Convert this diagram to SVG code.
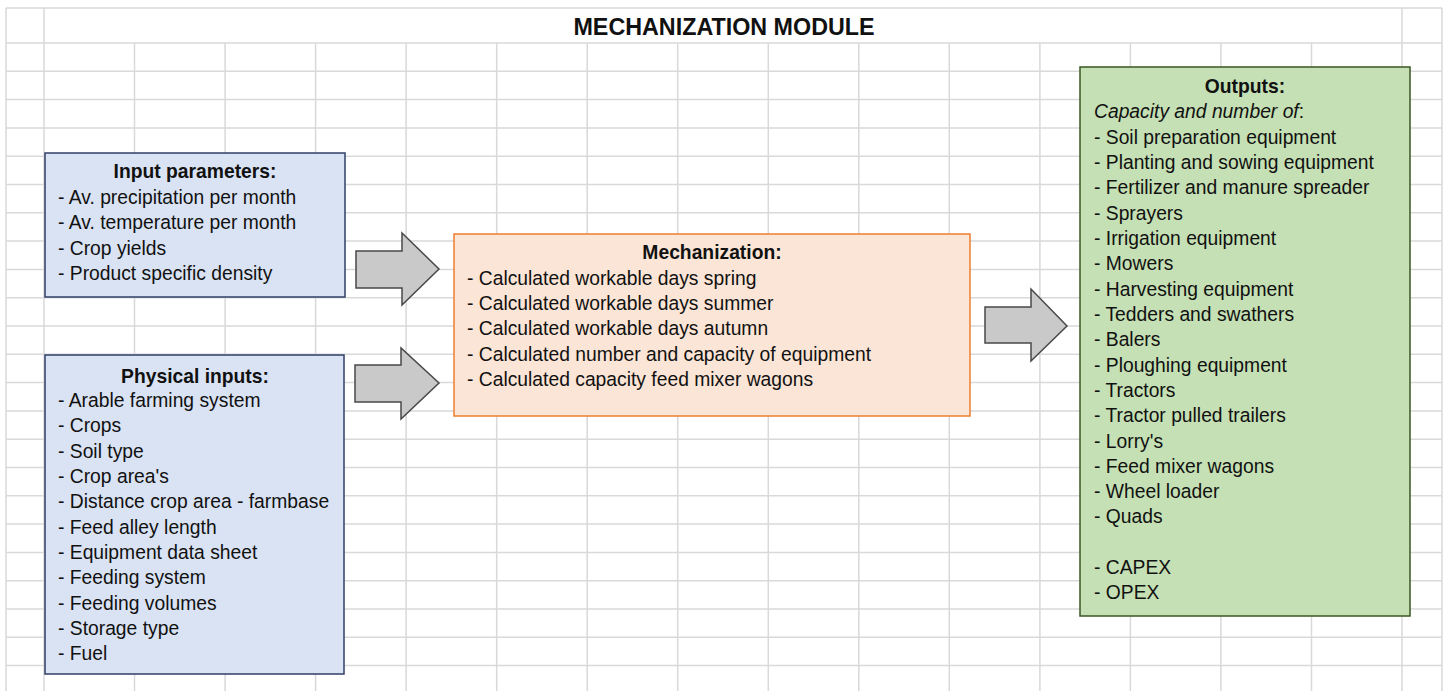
<svg xmlns="http://www.w3.org/2000/svg" width="1450" height="691" viewBox="0 0 1450 691">
<style>
.grid{stroke:#d9d9d9;stroke-width:1.5;fill:none}
.t{font-family:"Liberation Sans",Arial,sans-serif;font-size:19.3px;fill:#111}
.b{font-weight:bold}
.c{text-anchor:middle}
.arrow{fill:#c9c9c9;stroke:#484848;stroke-width:1.5;stroke-linejoin:miter}
</style>
<rect width="1450" height="691" fill="#ffffff"/>
<g id="grid">
<path class="grid" d="M6,8H1442 M6,43H1442 M6,71.3H1442 M6,99.6H1442 M6,127.9H1442 M6,156.2H1442 M6,184.5H1442 M6,212.8H1442 M6,241.1H1442 M6,269.4H1442 M6,297.7H1442 M6,326H1442 M6,354.3H1442 M6,382.6H1442 M6,410.9H1442 M6,439.2H1442 M6,467.5H1442 M6,495.8H1442 M6,524.1H1442 M6,552.4H1442 M6,580.7H1442 M6,609H1442 M6,637.3H1442 M6,665.6H1442"/>
<path class="grid" d="M6,8V691 M44,8V691 M1402,8V691 M1442,8V691 M134.5,43V691 M225.1,43V691 M315.6,43V691 M406.1,43V691 M496.7,43V691 M587.2,43V691 M677.7,43V691 M768.3,43V691 M858.8,43V691 M949.3,43V691 M1039.9,43V691 M1130.4,43V691 M1220.9,43V691 M1311.5,43V691"/>
</g>
<g id="title">
<text class="t b c" x="724" y="35" style="font-size:23.3px">MECHANIZATION MODULE</text>
</g>
<g id="connectors">
<path class="arrow" d="M356,251H402V233L439,269L402,305V288H356Z"/>
<path class="arrow" d="M355,365H401V348L439,383L401,419V402H355Z"/>
<path class="arrow" d="M985,307H1031V289L1067,326L1031,361V343H985Z"/>
</g>
<g id="input-parameters">
<rect x="45" y="153" width="300" height="144" fill="#dae3f3" stroke="#2f3f66" stroke-width="1.5"/>
<text class="t b c" x="195" y="178">Input parameters:</text>
<text class="t" x="58" y="204">- Av. precipitation per month</text>
<text class="t" x="58" y="229">- Av. temperature per month</text>
<text class="t" x="58" y="255">- Crop yields</text>
<text class="t" x="58" y="280">- Product specific density</text>
</g>
<g id="physical-inputs">
<rect x="45" y="355" width="299" height="319" fill="#dae3f3" stroke="#2f3f66" stroke-width="1.5"/>
<text class="t b c" x="195" y="383">Physical inputs:</text>
<text class="t" x="58" y="407">- Arable farming system</text>
<text class="t" x="58" y="432">- Crops</text>
<text class="t" x="58" y="458">- Soil type</text>
<text class="t" x="58" y="483">- Crop area's</text>
<text class="t" x="58" y="508">- Distance crop area - farmbase</text>
<text class="t" x="58" y="534">- Feed alley length</text>
<text class="t" x="58" y="559">- Equipment data sheet</text>
<text class="t" x="58" y="584">- Feeding system</text>
<text class="t" x="58" y="610">- Feeding volumes</text>
<text class="t" x="58" y="635">- Storage type</text>
<text class="t" x="58" y="660">- Fuel</text>
</g>
<g id="mechanization">
<rect x="454" y="234" width="516" height="182" fill="#fbe5d6" stroke="#ed7d31" stroke-width="1.5"/>
<text class="t b c" x="712" y="259">Mechanization:</text>
<text class="t" x="467" y="285">- Calculated workable days spring</text>
<text class="t" x="467" y="310">- Calculated workable days summer</text>
<text class="t" x="467" y="335">- Calculated workable days autumn</text>
<text class="t" x="467" y="361">- Calculated number and capacity of equipment</text>
<text class="t" x="467" y="386">- Calculated capacity feed mixer wagons</text>
</g>
<g id="outputs">
<rect x="1080" y="67" width="330" height="549" fill="#c5e0b4" stroke="#385723" stroke-width="1.5"/>
<text class="t b c" x="1245" y="93">Outputs:</text>
<text class="t" x="1094" y="118"><tspan font-style="italic">Capacity and number of</tspan>:</text>
<text class="t" x="1094" y="144">- Soil preparation equipment</text>
<text class="t" x="1094" y="169">- Planting and sowing equipment</text>
<text class="t" x="1094" y="194">- Fertilizer and manure spreader</text>
<text class="t" x="1094" y="220">- Sprayers</text>
<text class="t" x="1094" y="245">- Irrigation equipment</text>
<text class="t" x="1094" y="270">- Mowers</text>
<text class="t" x="1094" y="296">- Harvesting equipment</text>
<text class="t" x="1094" y="321">- Tedders and swathers</text>
<text class="t" x="1094" y="346">- Balers</text>
<text class="t" x="1094" y="372">- Ploughing equipment</text>
<text class="t" x="1094" y="397">- Tractors</text>
<text class="t" x="1094" y="422">- Tractor pulled trailers</text>
<text class="t" x="1094" y="448">- Lorry's</text>
<text class="t" x="1094" y="473">- Feed mixer wagons</text>
<text class="t" x="1094" y="498">- Wheel loader</text>
<text class="t" x="1094" y="523">- Quads</text>
<text class="t" x="1094" y="574">- CAPEX</text>
<text class="t" x="1094" y="599">- OPEX</text>
</g>
</svg>
